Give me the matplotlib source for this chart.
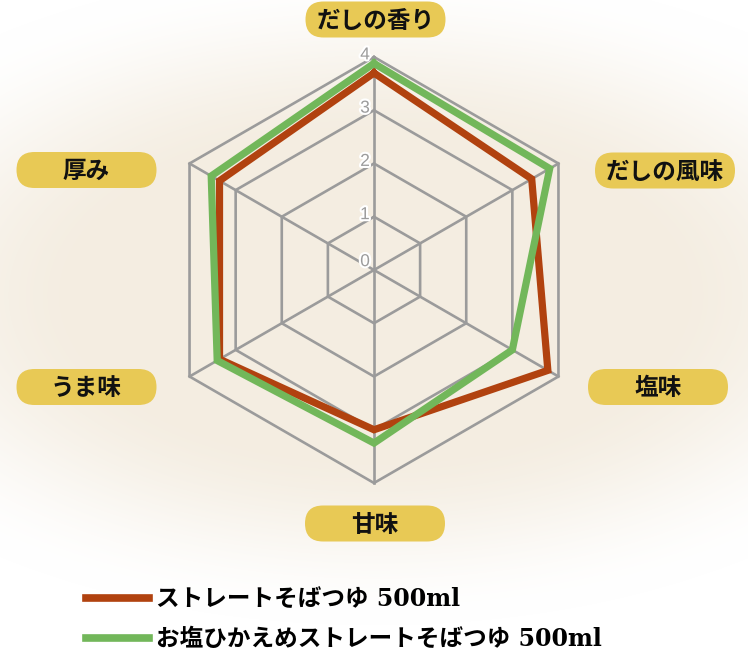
import numpy as np
import matplotlib
matplotlib.use('Agg')
import matplotlib.pyplot as plt
from matplotlib.lines import Line2D
from matplotlib.patches import FancyBboxPatch
import matplotlib.patheffects as pe

# data
categories = ['だしの香り', 'だしの風味', '塩味', '甘味', 'うま味', '厚み']
straight = [3.7, 3.42, 3.77, 3.0, 3.35, 3.35]
low_salt = [3.88, 3.81, 3.0, 3.25, 3.4, 3.53]
series_names = ['ストレートそばつゆ 500ml', 'お塩ひかえめストレートそばつゆ 500ml']
tick_vals = [0, 1, 2, 3, 4]

# label box centres in pixels (layout only)
label_pos = [(375.5, 19.5), (665, 170.5), (658, 387), (375, 523.5), (86.5, 387), (86.5, 170)]

W, H = 748, 654
fig = plt.figure(figsize=(W / 100, H / 100), dpi=100)

# paper-like background
bg = fig.add_axes([0, 0, 1, 1])
yy, xx = np.mgrid[0:H, 0:W]
d = np.sqrt(((xx - 375) / 560.0) ** 2 + ((yy - 295) / 300.0) ** 2)
t = np.clip((1.1 - d) / 0.6, 0, 1)
w = t * t * (3 - 2 * t)
base = np.array([244, 237, 225]) / 255.0
img = 1 - w[..., None] * (1 - base)
bg.imshow(img, extent=(0, W, H, 0), aspect='auto', interpolation='bilinear')
bg.set_xlim(0, W)
bg.set_ylim(H, 0)
bg.set_axis_off()

for (cx, cy), name in zip(label_pos, categories):
    bw, bh = 140, 36
    bg.add_patch(FancyBboxPatch((cx - bw / 2, cy - bh / 2), bw, bh,
                                boxstyle='round,pad=0,rounding_size=18',
                                fc='#e8c955', ec='none'))
    bg.text(cx, cy + 1, name, ha='center', va='center', fontsize=17,
            fontweight='bold', family=['Noto Sans CJK JP', 'DejaVu Sans'],
            color='#111111')

# radar
cx, cy, R = 374, 270, 213
ax = fig.add_axes([(cx - R) / W, 1 - (cy + R) / H, 2 * R / W, 2 * R / H],
                  projection='polar')
ax.set_theta_offset(np.pi / 2)
ax.set_theta_direction(-1)
ax.set_ylim(0, 4)
ax.set_axis_off()

n = len(categories)
angles = np.linspace(0, 2 * np.pi, n, endpoint=False)
closed = np.append(angles, angles[0])

grid_c = '#9b9b9b'
for lvl in tick_vals[1:]:
    ax.plot(closed, [lvl] * (n + 1), color=grid_c, lw=1.9, clip_on=False, zorder=1)
for a in angles:
    ax.plot([a, a], [0, tick_vals[-1]], color=grid_c, lw=1.9, clip_on=False, zorder=1)

for v in tick_vals:
    dy = 6 if v == 0 else 1.5
    ax.annotate(str(v), xy=(0, v), xytext=(-3, dy), textcoords='offset points',
                ha='right', va='center', fontsize=12.5, color='#9c9c9c',
                family='Liberation Sans', zorder=2,
                path_effects=[pe.withStroke(linewidth=3, foreground='white')])

ax.plot(closed, straight + straight[:1], color='#b1420f', lw=5.2,
        solid_joinstyle='miter', clip_on=False, zorder=3)
ax.plot(closed, low_salt + low_salt[:1], color='#72b75a', lw=5.2,
        solid_joinstyle='miter', clip_on=False, zorder=4)

handles = [Line2D([], [], color='#b1420f', lw=5.5),
           Line2D([], [], color='#72b75a', lw=5.5)]
fig.legend(handles, series_names, loc='upper left',
           bbox_to_anchor=(86 / W, 1 - 587 / H), frameon=False,
           borderpad=0, borderaxespad=0, handlelength=2.65, handletextpad=0.3,
           labelspacing=0.68,
           prop=dict(family=['DejaVu Serif', 'Noto Sans CJK JP'],
                     weight='bold', size=17))

fig.savefig('out.png', dpi=100)
